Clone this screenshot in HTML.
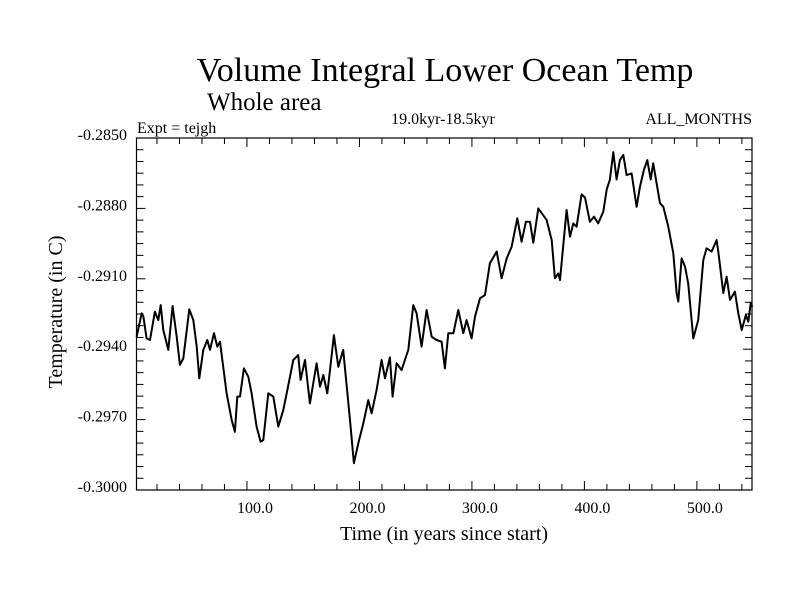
<!DOCTYPE html>
<html><head><meta charset="utf-8"><style>
body{margin:0;background:#fff;}
svg text{font-family:"Liberation Serif",serif;fill:#000;}
</style></head><body>
<svg id="chart" width="800" height="600" viewBox="0 0 800 600" xmlns="http://www.w3.org/2000/svg">
<text x="445" y="81" font-size="34" text-anchor="middle">Volume Integral Lower Ocean Temp</text>
<text x="207" y="110" font-size="25">Whole area</text>
<text x="137" y="133" font-size="16">Expt = tejgh</text>
<text x="443" y="124" font-size="16" text-anchor="middle">19.0kyr-18.5kyr</text>
<text x="752" y="124" font-size="16" text-anchor="end">ALL_MONTHS</text>
<text x="0" y="0" font-size="20" text-anchor="middle" transform="translate(62,312) rotate(-90)">Temperature (in C)</text>
<text x="444" y="540" font-size="20" text-anchor="middle">Time (in years since start)</text>
<g id="axes"></g>
<rect x="136.5" y="138" width="615.5" height="352" fill="none" stroke="#000" stroke-width="1.2"/>
<path id="line" fill="none" stroke="#000" stroke-width="2" stroke-linejoin="round"/>
</svg>
<script>
const years=[1.9,6.4,7.9,10.8,13.8,18.2,21.2,23.3,25.6,30.1,33.9,37.5,40.4,43.4,48.7,52.3,55.3,57.6,61.2,64.7,67.1,70.7,73.6,76.0,81.9,86.4,89.3,91.4,93.8,97.3,101.2,104.1,108.6,112.1,114.5,119.0,123.4,127.9,132.3,135.3,141.2,145.6,147.7,151.6,156.0,161.9,164.9,167.9,171.4,173.8,177.3,181.2,185.6,191.6,195.1,199.0,203.4,207.9,210.8,215.3,219.7,222.7,227.1,229.5,233.0,237.5,240.4,243.4,247.9,250.8,255.3,259.7,264.2,268.6,273.0,276.0,279.0,283.5,287.9,292.3,295.3,299.7,302.7,307.2,311.6,316.0,322.0,326.4,330.9,335.3,340.3,344.2,348.0,351.6,354.6,359.0,366.4,370.9,373.8,376.8,378.3,384.2,387.2,390.1,393.1,397.5,400.5,404.9,408.5,412.3,416.8,419.8,422.7,425.7,428.6,431.6,434.6,437.5,442.0,446.4,449.4,452.9,455.9,458.9,461.2,467.2,470.1,474.6,479.0,482.0,483.5,486.4,489.4,492.3,496.8,501.2,505.7,508.6,513.1,517.5,519.0,523.5,526.4,529.4,533.8,536.8,539.8,543.6,545.7,547.8,549.3];
const temps=[-0.29347,-0.29247,-0.29261,-0.29354,-0.29361,-0.29240,-0.29276,-0.29212,-0.29318,-0.29403,-0.29216,-0.29347,-0.29467,-0.29439,-0.29230,-0.29276,-0.29389,-0.29524,-0.29403,-0.29361,-0.29403,-0.29332,-0.29389,-0.29368,-0.29588,-0.29702,-0.29752,-0.29602,-0.29602,-0.29482,-0.29517,-0.29588,-0.29730,-0.29794,-0.29787,-0.29588,-0.29602,-0.29730,-0.29659,-0.29588,-0.29446,-0.29425,-0.29531,-0.29446,-0.29631,-0.29460,-0.29560,-0.29510,-0.29588,-0.29489,-0.29340,-0.29475,-0.29403,-0.29702,-0.29886,-0.29801,-0.29716,-0.29617,-0.29673,-0.29574,-0.29446,-0.29524,-0.29435,-0.29602,-0.29460,-0.29489,-0.29446,-0.29403,-0.29212,-0.29247,-0.29389,-0.29233,-0.29347,-0.29361,-0.29368,-0.29482,-0.29332,-0.29332,-0.29233,-0.29332,-0.29276,-0.29354,-0.29261,-0.29183,-0.29169,-0.29034,-0.28984,-0.29098,-0.29013,-0.28964,-0.28842,-0.28942,-0.28857,-0.28857,-0.28946,-0.28800,-0.28849,-0.28935,-0.29098,-0.29077,-0.29105,-0.28807,-0.28921,-0.28864,-0.28878,-0.28740,-0.28754,-0.28857,-0.28835,-0.28864,-0.28814,-0.28720,-0.28677,-0.28560,-0.28677,-0.28594,-0.28572,-0.28658,-0.28651,-0.28793,-0.28707,-0.28636,-0.28594,-0.28677,-0.28608,-0.28778,-0.28793,-0.28878,-0.28991,-0.29161,-0.29197,-0.29013,-0.29048,-0.29119,-0.29354,-0.29276,-0.29020,-0.28970,-0.28984,-0.28935,-0.28984,-0.29161,-0.29091,-0.29190,-0.29155,-0.29247,-0.29318,-0.29254,-0.29283,-0.29204,-0.29219];
const xTicks=[100,200,300,400,500];
const xTickLabels=["100.0","200.0","300.0","400.0","500.0"];
const yTicks=[-0.285,-0.288,-0.291,-0.294,-0.297,-0.300];
const yTickLabels=["-0.2850","-0.2880","-0.2910","-0.2940","-0.2970","-0.3000"];
const X0=136.5,X1=752,Y0=138,Y1=490,XMIN=1.8,XMAX=549,YMAX=-0.285,YMIN=-0.300;
function sx(v){return X0+(v-XMIN)/(XMAX-XMIN)*(X1-X0);}
function sy(v){return Y0+(YMAX-v)/(YMAX-YMIN)*(Y1-Y0);}
const NS="http://www.w3.org/2000/svg";
const axes=document.getElementById('axes');
function ln(x1,y1,x2,y2,name){const l=document.createElementNS(NS,'line');
l.setAttribute('x1',x1);l.setAttribute('y1',y1);l.setAttribute('x2',x2);l.setAttribute('y2',y2);
l.setAttribute('stroke','#000');l.setAttribute('stroke-width','1');


axes.appendChild(l);}
for(let t=20;t<XMAX;t+=20){const x=sx(t);const major=t%100===0;const L=major?9:6;
ln(x,Y1,x,Y1-L,'x-tick');ln(x,Y0,x,Y0+L,'x-tick-top');}
for(let k=0;k<=30;k++){const v=YMIN+k*0.0005;const y=sy(v);const L=(k%6===0)?9:7;
ln(X0,y,X0+L,y,'y-tick');ln(X1,y,X1-L,y,'y-tick-right');}
xTicks.forEach((t,i)=>{const tx=document.createElementNS(NS,'text');
tx.setAttribute('x',sx(t)+8);tx.setAttribute('y',513);tx.setAttribute('font-size','16');tx.setAttribute('text-anchor','middle');
tx.textContent=xTickLabels[i];


axes.appendChild(tx);});
yTicks.forEach((t,i)=>{const tx=document.createElementNS(NS,'text');
tx.setAttribute('x',127);tx.setAttribute('y',sy(t)+2);tx.setAttribute('font-size','16');tx.setAttribute('text-anchor','end');
tx.textContent=yTickLabels[i];


axes.appendChild(tx);});
let d='';years.forEach((y,i)=>{d+=(i?'L':'M')+sx(y).toFixed(1)+','+sy(temps[i]).toFixed(1);});
document.getElementById('line').setAttribute('d',d);
</script>
</body></html>
